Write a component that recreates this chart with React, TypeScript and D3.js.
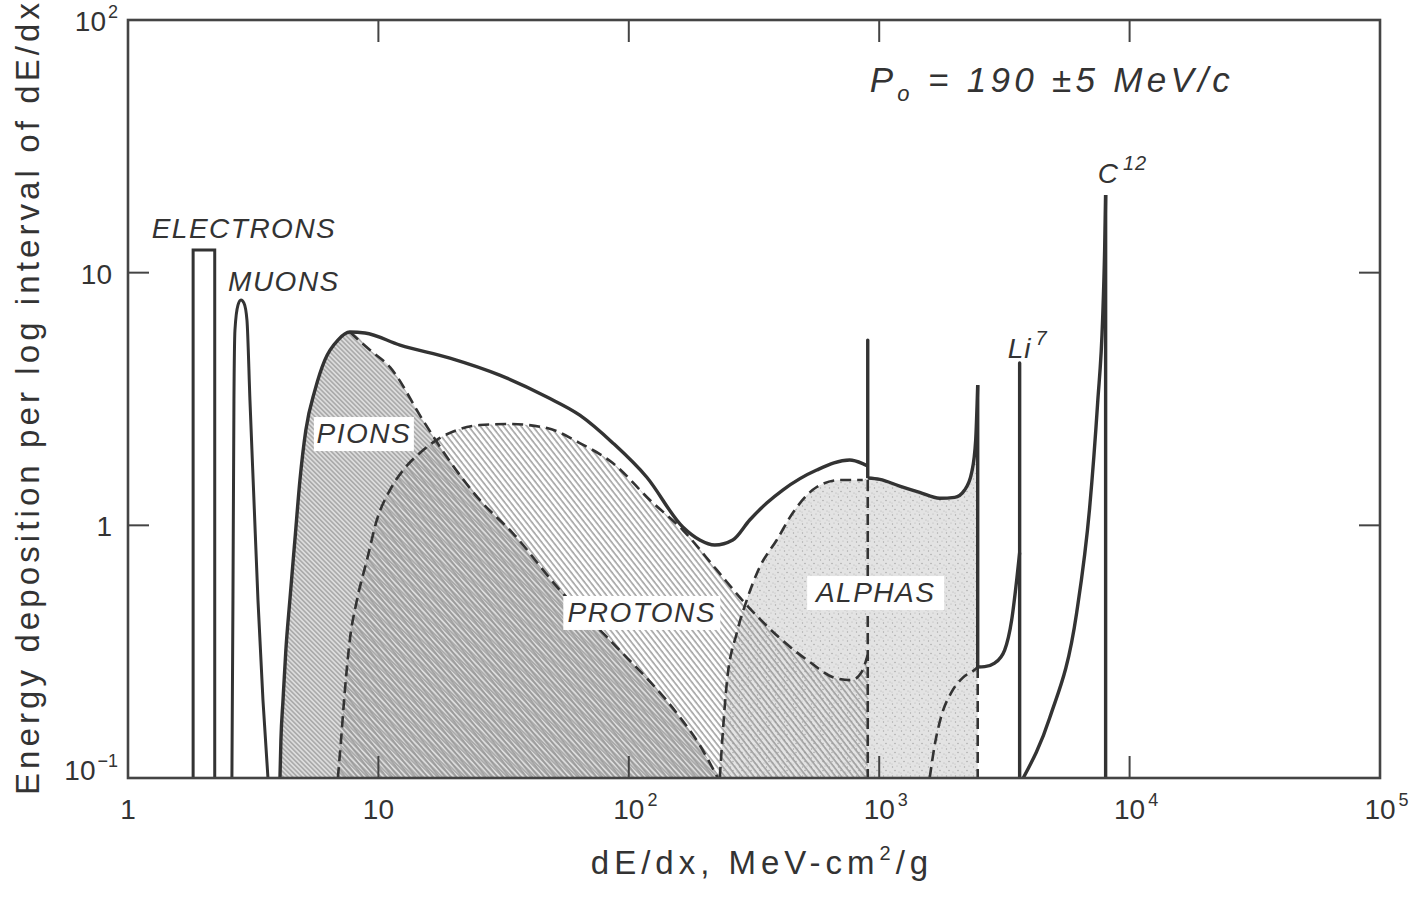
import React from 'react';
import * as d3 from 'd3';

type P = [number, number];

// ---------- axis ticks ----------
const xTickValues = [1, 10, 100, 1000, 10000, 100000];
const xTickLabels: [string, string][] = [['1', ''], ['10', ''], ['10', '2'], ['10', '3'], ['10', '4'], ['10', '5']];
const yTickValues = [0.1, 1, 10, 100];
const yTickLabels: [string, string][] = [['10', '\u22121'], ['1', ''], ['10', ''], ['10', '2']];
const innerTicksX = [10, 100, 1000, 10000];
const innerTicksY = [1, 10];

// ---------- data (dE/dx, energy deposition) ----------
const electronsBox = { x0: 1.82, x1: 2.22, top: 12.3 };

const muons: P[] = [
  [2.6, 0.1], [2.625, 0.506], [2.649, 3.13], [2.674, 5.93], [2.749, 7.44], [2.826, 7.79],
  [2.905, 7.58], [2.986, 6.49], [3.069, 3.13], [3.184, 1.26], [3.304, 0.506], [3.459, 0.2035], [3.622, 0.1],
];

const pionRise: P[] = [
  [4.045, 0.1], [4.08, 0.141], [4.16, 0.2035], [4.27, 0.321], [4.43, 0.506], [4.64, 0.875],
  [4.86, 1.51], [5.13, 2.38], [5.58, 3.43], [6.11, 4.51], [6.89, 5.41], [7.69, 5.82],
];

const pionFall: P[] = [
  [7.69, 5.82], [9.25, 4.94], [11.12, 4.23], [15.05, 2.61], [18.77, 1.863], [25.4, 1.26],
  [34.4, 0.932], [53.0, 0.555], [86.3, 0.342], [159.8, 0.1743], [192, 0.135], [226.6, 0.1],
];

const envelopeMain: P[] = [
  [8.84, 5.77], [12.2, 5.17], [19.3, 4.59], [30.5, 3.93], [47.1, 3.22], [63.7, 2.73],
  [86.3, 2.12], [118, 1.55], [164.3, 0.985], [192, 0.875], [220.4, 0.836], [260.2, 0.875],
  [304, 1.05], [355.5, 1.225], [411.9, 1.379], [563, 1.655], [762, 1.813], [859, 1.755], [900, 1.717],
];

const protonPeak = { x: 900, top: 5.41, after: 1.539 };

const envelopeAlpha: P[] = [
  [900, 1.539], [1005, 1.52], [1207, 1.43], [1451, 1.35], [1744, 1.28], [2002, 1.29],
  [2194, 1.38], [2341, 1.62], [2428, 2.17], [2474, 3.59],
];
const alphaEdge = { x: 2474, top: 3.59, bottom: 0.275 };

const envelopeLi: P[] = [
  [2474, 0.275], [2638, 0.276], [2891, 0.285], [3170, 0.321], [3381, 0.422], [3540, 0.607], [3638, 0.78],
];
const liPeak = { x: 3638, top: 4.39 };

const carbon: P[] = [
  [3760, 0.1], [4794, 0.1727], [6144, 0.45], [6924, 1.171], [7454, 3.05], [7803, 6.55], [7949, 12.3], [8022, 20.3],
];
const carbonPeak = { x: 8022, top: 20.3 };

const protons: P[] = [
  [6.89, 0.1], [7.09, 0.141], [7.35, 0.223], [7.69, 0.352], [8.21, 0.506], [9.0, 0.729],
  [9.86, 1.05], [11.12, 1.379], [12.76, 1.686], [14.64, 1.932], [17.12, 2.18], [20.58, 2.383],
  [25.4, 2.494], [33.5, 2.517], [47.1, 2.427], [63.7, 2.117], [86.3, 1.764], [121.3, 1.26],
  [164.3, 0.958], [224.5, 0.666], [290.5, 0.493], [400.6, 0.358], [528, 0.288], [664.5, 0.249],
  [776.5, 0.244], [851.4, 0.263], [900, 0.307],
];

const alphas: P[] = [
  [230.8, 0.1], [246.2, 0.2375], [269.9, 0.3748], [295.9, 0.506], [333.4, 0.684], [389.8, 0.875],
  [451.5, 1.119], [563, 1.418], [695.7, 1.511], [859.4, 1.511],
];
const protonCut = { x: 900, top: 1.511 };

const heavier: P[] = [
  [1591, 0.1], [1666, 0.135], [1776, 0.1776], [1947, 0.219], [2154, 0.249], [2406, 0.268], [2474, 0.275],
];

// ---------- annotations (data coords) ----------
const particleLabels = [
  { text: 'ELECTRONS', x: 2.905, y: 13.7, box: 0 },
  { text: 'MUONS', x: 4.196, y: 8.46, box: 0 },
  { text: 'PIONS', x: 8.75, y: 2.117, box: 100 },
  { text: 'PROTONS', x: 112.7, y: 0.4145, box: 157 },
  { text: 'ALPHAS', x: 968, y: 0.497, box: 137 },
];
const isotopeLabels = [
  { base: 'Li', sup: '7', x: 3258, y: 4.59 },
  { base: 'C', sup: '12', x: 7454, y: 22.6 },
];
const momentumLabel = { x: 916, y: 51.8 };

const W = 1416;
const H = 898;
const FONT = '"Liberation Sans", Arial, Helvetica, sans-serif';
const INK = '#333';

export default function App() {
  const x = d3.scaleLog().domain([1, 1e5]).range([128, 1380]);
  const y = d3.scaleLog().domain([0.1, 100]).range([778, 20]);
  const yb = y(0.1);

  const smooth = d3.line<P>().x(d => x(d[0])).y(d => y(d[1])).curve(d3.curveMonotoneX);
  const straight = d3.line<P>().x(d => x(d[0])).y(d => y(d[1]));
  const areaS = d3.area<P>().x(d => x(d[0])).y0(yb).y1(d => y(d[1])).curve(d3.curveMonotoneX);

  const envelopePaths = [
    smooth(pionRise.concat(envelopeMain)),
    straight([[protonPeak.x, envelopeMain[envelopeMain.length - 1][1]], [protonPeak.x, protonPeak.top], [protonPeak.x, protonPeak.after]]),
    smooth(envelopeAlpha),
    straight([[alphaEdge.x, alphaEdge.top], [alphaEdge.x, alphaEdge.bottom]]),
    smooth(envelopeLi),
    straight([[liPeak.x, envelopeLi[envelopeLi.length - 1][1]], [liPeak.x, liPeak.top], [liPeak.x, 0.1]]),
    smooth(carbon),
    straight([[carbonPeak.x, carbonPeak.top], [carbonPeak.x, 0.1]]),
  ];

  const electronPath = straight([
    [electronsBox.x0, 0.1], [electronsBox.x0, electronsBox.top], [electronsBox.x1, electronsBox.top], [electronsBox.x1, 0.1],
  ]);

  const dashedPaths = [
    smooth(pionFall),
    smooth(protons),
    straight([[protonCut.x, protonCut.top], [protonCut.x, 0.1]]),
    smooth(alphas),
    smooth(heavier),
    straight([[alphaEdge.x, alphaEdge.bottom], [alphaEdge.x, 0.1]]),
  ];

  const alphaFill = areaS(alphas.concat(envelopeAlpha));
  const pionFill = areaS(pionRise.concat(pionFall.slice(1)));
  const protonFill = areaS(protons);

  const labelFs = 28;
  const tickFs = 28;

  return (
    <svg width={W} height={H} style={{ position: 'absolute', left: 0, top: 0, background: '#fff' }} fontFamily={FONT}>
      <defs>
        <pattern id="pionHatch" patternUnits="userSpaceOnUse" width="3.3" height="3.3" patternTransform="rotate(-45)">
          <rect width="3.3" height="3.3" fill="#dcdcdc" />
          <line x1="0.8" y1="0" x2="0.8" y2="3.3" stroke="#8c8c8c" strokeWidth="1.0" />
        </pattern>
        <pattern id="protonHatch" patternUnits="userSpaceOnUse" width="4.6" height="4.6" patternTransform="rotate(-38)">
          <line x1="1" y1="0" x2="1" y2="4.6" stroke="#959595" strokeWidth="1.4" />
        </pattern>
        <pattern id="stipple" patternUnits="userSpaceOnUse" width="9" height="9">
          <rect width="9" height="9" fill="#e3e3e3" />
          <circle cx="1.5" cy="2" r="0.7" fill="#a8a8a8" />
          <circle cx="6" cy="1" r="0.6" fill="#b5b5b5" />
          <circle cx="4" cy="5.5" r="0.7" fill="#a0a0a0" />
          <circle cx="8" cy="7" r="0.6" fill="#b0b0b0" />
          <circle cx="1" cy="8" r="0.5" fill="#b8b8b8" />
        </pattern>
      </defs>

      {/* fills */}
      <path d={alphaFill ?? ''} fill="url(#stipple)" />
      <path d={pionFill ?? ''} fill="url(#pionHatch)" />
      <path d={protonFill ?? ''} fill="url(#protonHatch)" />

      {/* dashed component curves */}
      {dashedPaths.map((d, i) => (
        <path key={'d' + i} d={d ?? ''} fill="none" stroke={INK} strokeWidth={2.6} strokeDasharray="11 6" />
      ))}

      {/* particle labels */}
      {particleLabels.map(l => (
        <g key={l.text}>
          {l.box > 0 && (
            <rect x={x(l.x) - l.box / 2} y={y(l.y) - 26} width={l.box} height={34} fill="#fff" />
          )}
          <text x={x(l.x)} y={y(l.y)} textAnchor="middle" fontSize={labelFs} fontStyle="italic"
            letterSpacing={1.5} fill={INK}>{l.text}</text>
        </g>
      ))}
      {isotopeLabels.map(l => (
        <text key={l.base} x={x(l.x)} y={y(l.y)} fontSize={labelFs} fontStyle="italic" fill={INK} letterSpacing={1}>
          {l.base}
          <tspan dx={4} dy={-13} fontSize={20}>{l.sup}</tspan>
        </text>
      ))}

      {/* solid envelope & narrow peaks */}
      <path d={electronPath ?? ''} fill="none" stroke={INK} strokeWidth={3} />
      <path d={smooth(muons) ?? ''} fill="none" stroke={INK} strokeWidth={3} />
      {envelopePaths.map((d, i) => (
        <path key={'e' + i} d={d ?? ''} fill="none" stroke={INK} strokeWidth={3.4} strokeLinejoin="round" />
      ))}

      {/* frame */}
      <rect x={x(1)} y={y(100)} width={x(1e5) - x(1)} height={y(0.1) - y(100)} fill="none" stroke="#444" strokeWidth={2.6} />
      {innerTicksX.map(v => (
        <g key={'tx' + v} stroke="#444" strokeWidth={2}>
          <line x1={x(v)} x2={x(v)} y1={y(100)} y2={y(100) + 22} />
          <line x1={x(v)} x2={x(v)} y1={yb} y2={yb - 22} />
        </g>
      ))}
      {innerTicksY.map(v => (
        <g key={'ty' + v} stroke="#444" strokeWidth={2}>
          <line x1={x(1)} x2={x(1) + 21} y1={y(v)} y2={y(v)} />
          <line x1={x(1e5)} x2={x(1e5) - 21} y1={y(v)} y2={y(v)} />
        </g>
      ))}

      {/* tick labels */}
      {xTickValues.map((v, i) => {
        const [b, s] = xTickLabels[i];
        const bw = b.length * 0.556 * tickFs;
        return (
          <text key={'xl' + v} x={x(v) - bw / 2} y={819} fontSize={tickFs} fill={INK}>
            {b}
            {s && <tspan dx={3} dy={-13} fontSize={18}>{s}</tspan>}
          </text>
        );
      })}
      {yTickValues.map((v, i) => {
        const [b, s] = yTickLabels[i];
        return (
          <text key={'yl' + v} x={s ? 118 : 112} y={y(v) + (v === 0.1 ? 2 : 11)} fontSize={tickFs} fill={INK} textAnchor="end">
            {b}
            {s && <tspan dx={2} dy={-13} fontSize={18}>{s}</tspan>}
          </text>
        );
      })}

      {/* momentum annotation */}
      <text x={x(momentumLabel.x)} y={y(momentumLabel.y)} fontSize={35} fontStyle="italic" fill={INK} letterSpacing={4.3}>
        P<tspan dy={9} fontSize={22}>o</tspan>
        <tspan dy={-9}> = 190 ±5 MeV/c</tspan>
      </text>

      {/* axis titles */}
      <text x={762} y={874} fontSize={33} textAnchor="middle" fill={INK} letterSpacing={5}>
        dE/dx, MeV-cm<tspan dy={-14} fontSize={20}>2</tspan><tspan dy={14}>/g</tspan>
      </text>
      <text transform="translate(39,399) rotate(-90)" fontSize={33} textAnchor="middle" fill={INK}
        textLength={792} lengthAdjust="spacing">
        Energy deposition per log interval of dE/dx
      </text>
    </svg>
  );
}
